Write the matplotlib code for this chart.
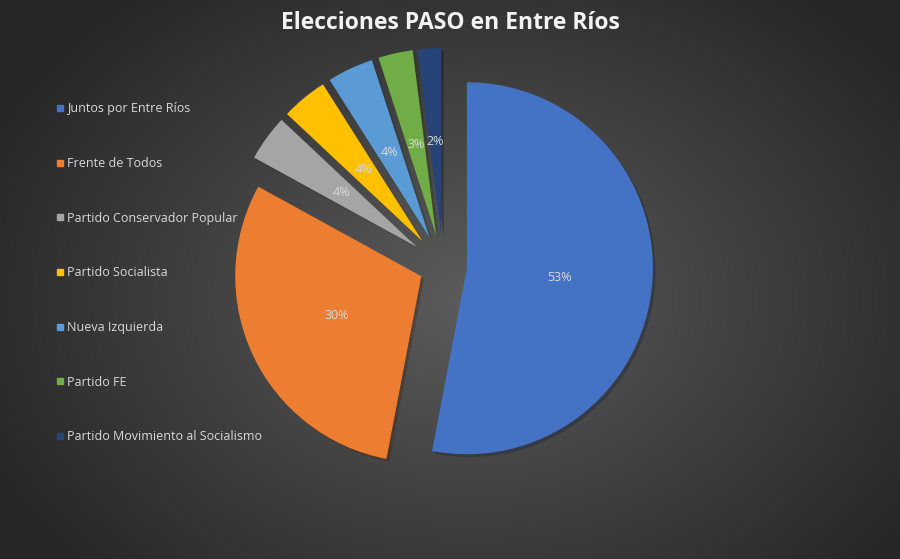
import numpy as np
import matplotlib
matplotlib.use("Agg")
import matplotlib.pyplot as plt
from matplotlib.lines import Line2D
import matplotlib.patheffects as pe

plt.rcParams["font.family"] = ["Open Sans", "DejaVu Sans"]

TITLE = "Elecciones PASO en Entre Ríos"
PARTIES = [
    "Juntos por Entre Ríos",
    "Frente de Todos",
    "Partido Conservador Popular",
    "Partido Socialista",
    "Nueva Izquierda",
    "Partido FE",
    "Partido Movimiento al Socialismo",
]
SHARES = [53, 30, 4, 4, 4, 3, 2]
COLORS = ["#4472C4", "#ED7D31", "#A5A5A5", "#FFC000", "#5B9BD5", "#70AD47", "#264478"]
# explode offsets in pixels (pie axes uses pixel data coords)
EXPLODE = [24, 24, 32, 32, 32, 32, 32]

W, H = 900, 559
fig = plt.figure(figsize=(W / 100, H / 100), dpi=100)

# radial gradient background
bg = fig.add_axes([0, 0, 1, 1])
yy, xx = np.mgrid[0:H, 0:W]
d = np.sqrt(((xx - 470) / 560) ** 2 + ((yy - 300) / 420) ** 2)
shade = np.clip(0.36 - 0.22 * d, 0.15, 0.36)
bg.imshow(np.dstack([shade] * 3), extent=[0, W, 0, H], origin="upper", aspect="auto")
bg.set_axis_off()

ax = fig.add_axes([0, 0, 1, 1])
ax.patch.set_alpha(0)

wedges, texts, autotexts = ax.pie(
    SHARES, colors=COLORS, explode=EXPLODE, startangle=90, counterclock=False,
    center=(443, 293), radius=186, autopct=lambda p: f"{round(p)}%", pctdistance=0.5,
    wedgeprops=dict(linewidth=0),
    textprops=dict(color="#d9d9d9", fontsize=9),
)
for w in wedges:
    w.set_path_effects([pe.SimplePatchShadow(offset=(2, -2), alpha=0.35), pe.Normal()])

ax.set_xlim(0, W)
ax.set_ylim(0, H)
ax.set_aspect("equal")
ax.set_axis_off()

handles = [Line2D([], [], marker="s", linestyle="none", markersize=5,
                  markerfacecolor=c, markeredgecolor=c) for c in COLORS]
leg = ax.legend(handles, PARTIES, loc="upper left", bbox_to_anchor=(0.055, 0.828),
                frameon=False, fontsize=9, labelspacing=3.33,
                handlelength=0.6, handletextpad=0.3, borderpad=0)
for t in leg.get_texts():
    t.set_color("#d9d9d9")

fig.text(0.5, 1 - 23 / H, TITLE, ha="center", va="center", color="#f2f2f2",
         fontsize=16.5, fontweight="bold")

fig.savefig("out.png", dpi=100)
